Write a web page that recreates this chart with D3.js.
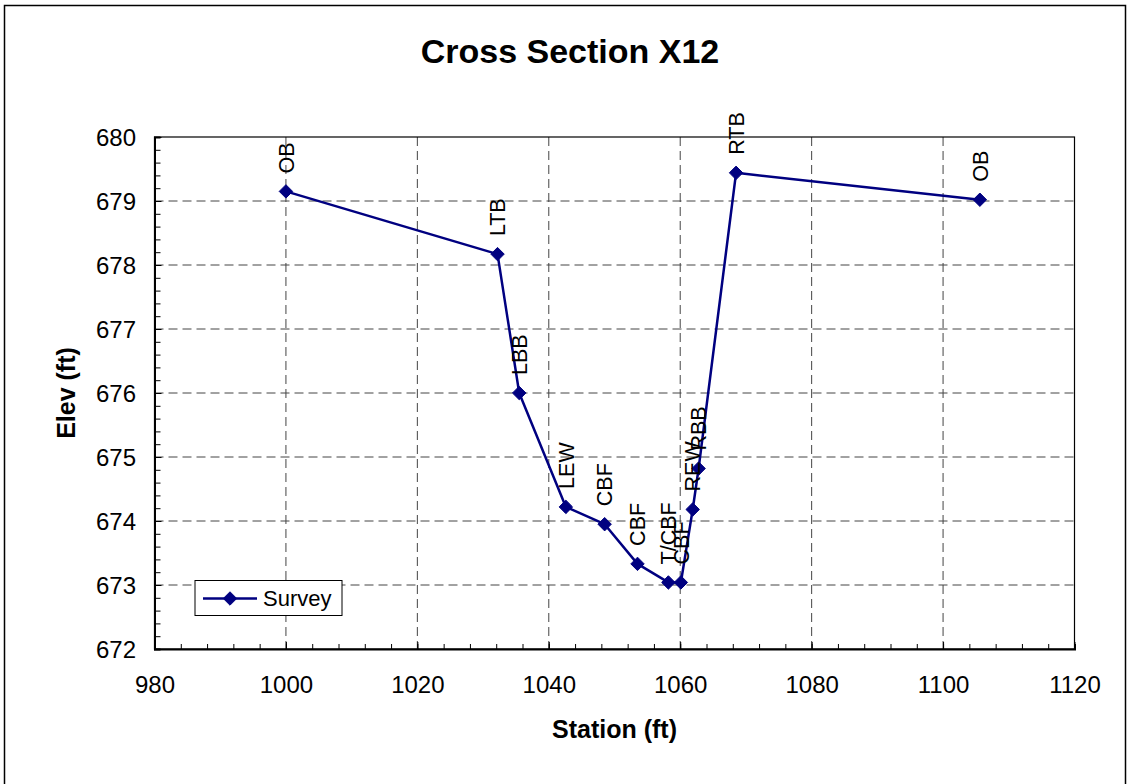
<!DOCTYPE html>
<html>
<head>
<meta charset="utf-8">
<script src="https://cdn.jsdelivr.net/npm/d3@7"></script>
<style>
  html, body { margin: 0; padding: 0; background: #fff; }
  svg { display: block; font-family: Arial, "Liberation Sans", sans-serif; }
</style>
</head>
<body>
<svg id="chart" width="1130" height="784"></svg>
<script>
// ---- data ----
const labels   = ["OB", "LTB", "LBB", "LEW", "CBF", "CBF", "T/CBF", "CBF", "REW", "RBB", "RTB", "OB"];
const stations = [1000, 1032.2, 1035.5, 1042.6, 1048.5, 1053.5, 1058.2, 1060.1, 1061.9, 1062.8, 1068.5, 1105.6];
const elevs    = [679.15, 678.17, 676.0, 674.22, 673.95, 673.33, 673.04, 673.04, 674.18, 674.82, 679.44, 679.02];
const xTicks   = [980, 1000, 1020, 1040, 1060, 1080, 1100, 1120];
const yTicks   = [672, 673, 674, 675, 676, 677, 678, 679, 680];
const seriesName = "Survey";
const chartTitle = "Cross Section X12";
const xTitle = "Station (ft)";
const yTitle = "Elev (ft)";

const data = stations.map((s, i) => ({ x: s, y: elevs[i], label: labels[i] }));

const svg = d3.select("#chart");
const W = 1130, H = 784;
const plot = { left: 154.5, right: 1074.5, top: 137, bottom: 649 };
const navy = "#000080";

// outer chart frame
svg.append("path")
  .attr("d", `M4.5,${H + 10} L4.5,5.5 L1125.5,5.5 L1125.5,${H + 10}`)
  .attr("fill", "none").attr("stroke", "#000").attr("stroke-width", 1.5);

const x = d3.scaleLinear().domain([980, 1120]).range([plot.left, plot.right]);
const y = d3.scaleLinear().domain([672, 680]).range([plot.bottom, plot.top]);

// gridlines
const grid = svg.append("g");
grid.selectAll("line.gx").data(xTicks.slice(1, -1)).join("line")
  .attr("x1", d => x(d)).attr("x2", d => x(d))
  .attr("y1", plot.top).attr("y2", plot.bottom)
  .attr("stroke", "#444").attr("stroke-width", 1).attr("stroke-dasharray", "9,5");
grid.selectAll("line.gy").data(yTicks.slice(1, -1)).join("line")
  .attr("y1", d => y(d)).attr("y2", d => y(d))
  .attr("x1", plot.left).attr("x2", plot.right)
  .attr("stroke", "#444").attr("stroke-width", 1).attr("stroke-dasharray", "9,5");

// plot border
svg.append("rect")
  .attr("x", plot.left).attr("y", plot.top)
  .attr("width", plot.right - plot.left).attr("height", plot.bottom - plot.top)
  .attr("fill", "none").attr("stroke", "#000").attr("stroke-width", 1.2);

// minor ticks (inside)
const xMinor = d3.range(980, 1120.001, 4);
const yMinor = d3.range(0, 41).map(i => 672 + i * 0.2);

const xAxis = svg.append("g").attr("transform", `translate(0,${plot.bottom})`)
  .call(d3.axisBottom(x).tickValues(xMinor).tickSize(-5).tickFormat(""));
xAxis.select(".domain").attr("stroke-width", 2);
xAxis.selectAll(".tick line").attr("stroke", "#000");

const xAxisMajor = svg.append("g").attr("transform", `translate(0,${plot.bottom})`)
  .call(d3.axisBottom(x).tickValues(xTicks).tickSize(-7).tickPadding(0).tickFormat(d3.format("d")));
xAxisMajor.select(".domain").remove();
xAxisMajor.selectAll(".tick text")
  .attr("y", 44).attr("dy", 0)
  .attr("font-size", 24).attr("font-family", "Arial, 'Liberation Sans', sans-serif").attr("fill", "#000");

const yAxis = svg.append("g").attr("transform", `translate(${plot.left},0)`)
  .call(d3.axisLeft(y).tickValues(yMinor).tickSize(-6).tickFormat(""));
yAxis.select(".domain").attr("stroke-width", 2);
yAxis.selectAll(".tick line").attr("stroke", "#000");

const yAxisMajor = svg.append("g").attr("transform", `translate(${plot.left},0)`)
  .call(d3.axisLeft(y).tickValues(yTicks).tickSize(-7).tickPadding(0).tickFormat(d3.format("d")));
yAxisMajor.select(".domain").remove();
yAxisMajor.selectAll(".tick text")
  .attr("x", -18.5).attr("dy", "0.35em")
  .attr("font-size", 24).attr("font-family", "Arial, 'Liberation Sans', sans-serif").attr("fill", "#000");

// series line
const line = d3.line().x(d => x(d.x)).y(d => y(d.y));
svg.append("path").datum(data)
  .attr("d", line).attr("fill", "none")
  .attr("stroke", navy).attr("stroke-width", 2.5).attr("stroke-linejoin", "round");

const diamond = d3.symbol().type(d3.symbolDiamond2).size(115);
svg.selectAll("path.pt").data(data).join("path")
  .attr("class", "pt")
  .attr("d", diamond)
  .attr("transform", d => `translate(${x(d.x)},${y(d.y)})`)
  .attr("fill", navy).attr("stroke", navy).attr("stroke-width", 1);

// data labels (rotated)
svg.selectAll("text.lbl").data(data).join("text")
  .attr("class", "lbl")
  .attr("transform", d => `translate(${x(d.x)},${y(d.y) - 18}) rotate(-90)`)
  .attr("dy", "0.36em")
  .attr("text-anchor", "start")
  .attr("font-size", 21.5)
  .attr("fill", "#000")
  .text(d => d.label);

// title
svg.append("text")
  .attr("x", 570).attr("y", 63)
  .attr("text-anchor", "middle").attr("font-size", 34).attr("font-weight", "bold")
  .text(chartTitle);

// axis titles
svg.append("text")
  .attr("x", (plot.left + plot.right) / 2).attr("y", 738)
  .attr("text-anchor", "middle").attr("font-size", 25).attr("font-weight", "bold")
  .text(xTitle);
svg.append("text")
  .attr("transform", `translate(75,${(plot.top + plot.bottom) / 2}) rotate(-90)`)
  .attr("text-anchor", "middle").attr("font-size", 25).attr("font-weight", "bold")
  .text(yTitle);

// legend
const lg = svg.append("g");
lg.append("rect").attr("x", 195).attr("y", 580.5).attr("width", 147).attr("height", 35)
  .attr("fill", "#fff").attr("stroke", "#000").attr("stroke-width", 1);
lg.append("line").attr("x1", 203).attr("x2", 257).attr("y1", 598.5).attr("y2", 598.5)
  .attr("stroke", navy).attr("stroke-width", 2.5);
lg.append("path").attr("d", diamond).attr("transform", "translate(230,598.5)")
  .attr("fill", navy).attr("stroke", navy).attr("stroke-width", 1);
lg.append("text").attr("x", 263).attr("y", 606).attr("font-size", 22).text(seriesName);
</script>
</body>
</html>
